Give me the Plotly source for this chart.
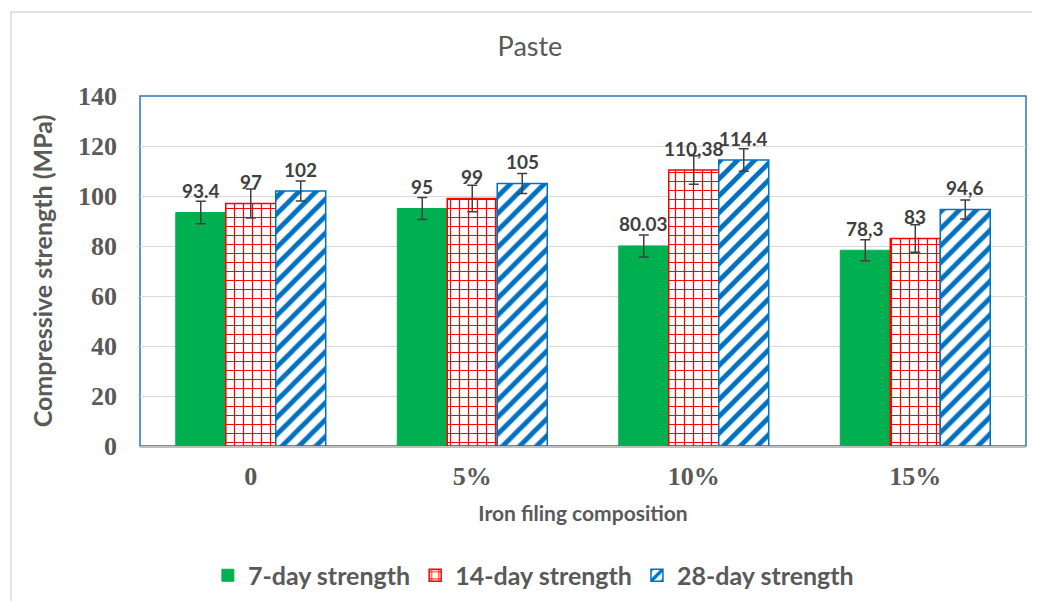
import plotly.graph_objects as go

categories = ["0", "5%", "10%", "15%"]
series_names = ["7-day strength", "14-day strength", "28-day strength"]
day7 = [93.4, 95, 80.03, 78.3]
day14 = [97, 99, 110.38, 83]
day28 = [102, 105, 114.4, 94.6]
err7 = [4.5, 4.4, 4.4, 4.2]
err14 = [5.8, 5.3, 5.7, 5.5]
err28 = [4.0, 4.0, 4.5, 3.8]
labels7 = ["93.4", "95", "80.03", "78,3"]
labels14 = ["97", "99", "110,38", "83"]
labels28 = ["102", "105", "114.4", "94,6"]
y_ticks = [0, 20, 40, 60, 80, 100, 120, 140]

GRAY = "#595959"
ERR = "#404040"
BODY_FONT = "Lato"

fig = go.Figure()

fig.add_trace(go.Bar(
    name=series_names[0], x=categories, y=day7,
    marker=dict(color="#00B050", line=dict(color="#00B050", width=1)),
    error_y=dict(type="data", array=err7, color=ERR, thickness=1.5, width=5),
))
fig.add_trace(go.Bar(
    name=series_names[1], x=categories, y=day14,
    marker=dict(color="white", line=dict(color="#FF0000", width=1.5),
                pattern=dict(shape="+", fgcolor="#FF0000", bgcolor="white",
                             size=9, solidity=0.25, fillmode="replace")),
    error_y=dict(type="data", array=err14, color=ERR, thickness=1.5, width=5),
))
fig.add_trace(go.Bar(
    name=series_names[2], x=categories, y=day28,
    marker=dict(color="white", line=dict(color="#0070C0", width=1.5),
                pattern=dict(shape="/", fgcolor="#0070C0", bgcolor="white",
                             size=12, solidity=0.4, fillmode="replace")),
    error_y=dict(type="data", array=err28, color=ERR, thickness=1.5, width=5),
))

# data labels above bars (grouped offsets in category units)
bargap = 0.323
bw = (1 - bargap) / 3
for k, (vals, labs) in enumerate([(day7, labels7), (day14, labels14), (day28, labels28)]):
    for i, (v, t) in enumerate(zip(vals, labs)):
        fig.add_annotation(
            x=i + (k - 1) * bw, y=v, xref="x", yref="y",
            text=t, showarrow=False, yshift=22, yanchor="middle",
            font=dict(family=BODY_FONT, size=19, color=ERR, weight="bold"),
        )

# blue plot-area frame
fig.add_shape(type="rect", xref="paper", yref="paper", x0=0, x1=1, y0=0, y1=1,
              line=dict(color="#2E75B6", width=1.5), layer="below")
# outer chart border
fig.add_shape(type="rect", xref="paper", yref="paper", x0=-0.1456, x1=1.2,
              y0=-0.6, y1=1.24, line=dict(color="#D9D9D9", width=1.5), layer="below")

fig.update_layout(
    width=1040, height=601,
    margin=dict(l=132, r=22, t=88, b=163, autoexpand=False),
    paper_bgcolor="white", plot_bgcolor="white",
    barmode="group", bargap=bargap, bargroupgap=0,
    title=dict(text="Paste", x=522 / 1040, xanchor="center", xref="container",
               y=1 - 39 / 601, yanchor="middle", yref="container",
               font=dict(family=BODY_FONT, size=27, color=GRAY)),
    showlegend=True,
    legend=dict(orientation="h", x=0.444, xanchor="center", y=-0.37, yanchor="middle",
                font=dict(family=BODY_FONT, size=25, color=GRAY, weight="bold"),
                itemwidth=30, traceorder="normal"),
    xaxis=dict(
        type="category", automargin=False,
        showline=True, linecolor="#BFBFBF", linewidth=1.5,
        showgrid=False, ticks="", ticklabelstandoff=6,
        tickfont=dict(family="Liberation Serif", size=26, color=GRAY, weight="bold"),
        title=dict(text="Iron filing composition", standoff=16,
                   font=dict(family=BODY_FONT, size=21, color=GRAY, weight="bold")),
    ),
    yaxis=dict(
        range=[0, 140], tickvals=y_ticks, automargin=False,
        showgrid=True, gridcolor="#D9D9D9", gridwidth=1,
        zeroline=False, showline=False, ticks="", ticklabelstandoff=22,
        tickfont=dict(family="Liberation Serif", size=26, color=GRAY, weight="bold"),
        title=dict(text="Compressive strength (MPa)", standoff=18,
                   font=dict(family=BODY_FONT, size=25, color=GRAY, weight="bold")),
    ),
)

fig.write_html("out.html")
